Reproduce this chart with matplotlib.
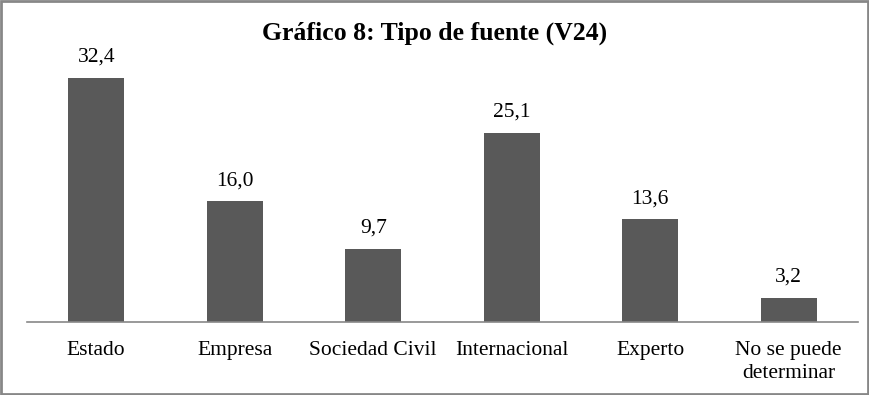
import matplotlib.pyplot as plt
from matplotlib.patches import Rectangle

categories = ['Estado', 'Empresa', 'Sociedad Civil', 'Internacional', 'Experto', 'No se puede\ndeterminar']
values = [32.4, 16.0, 9.7, 25.1, 13.6, 3.2]
labels = ['32,4', '16,0', '9,7', '25,1', '13,6', '3,2']

plt.rcParams['font.family'] = ['Liberation Serif', 'DejaVu Serif']

fig = plt.figure(figsize=(8.7, 3.95), dpi=100)
ax = fig.add_axes([27 / 870, 1 - 322 / 395, (858 - 27) / 870, 264 / 395])

x = list(range(len(categories)))
ax.bar(x, values, width=0.405, color='#595959')
for xi, v, lab in zip(x, values, labels):
    ax.text(xi, v + 1.45, lab, ha='center', va='bottom', fontsize=15.5, color='#000000')

ax.set_xlim(-0.5, 5.5)
ax.set_ylim(0, 35)
ax.set_yticks([])
ax.set_xticks(x)
ax.set_xticklabels(categories, fontsize=15.5, linespacing=1.25, va='top')
ax.tick_params(axis='x', length=0, pad=14)
for s in ['top', 'right', 'left']:
    ax.spines[s].set_visible(False)
ax.spines['bottom'].set_color('#888888')
ax.spines['bottom'].set_linewidth(1.2)

fig.text(0.5, 1 - 33.5 / 395, 'Gráfico 8: Tipo de fuente (V24)', ha='center', va='center',
         fontsize=18.5, fontweight='bold')

fig.patches.append(Rectangle((0.001, 0.002), 0.997, 0.995, transform=fig.transFigure,
                             fill=False, edgecolor='#878787', linewidth=2))

fig.savefig('out.png', dpi=100)
